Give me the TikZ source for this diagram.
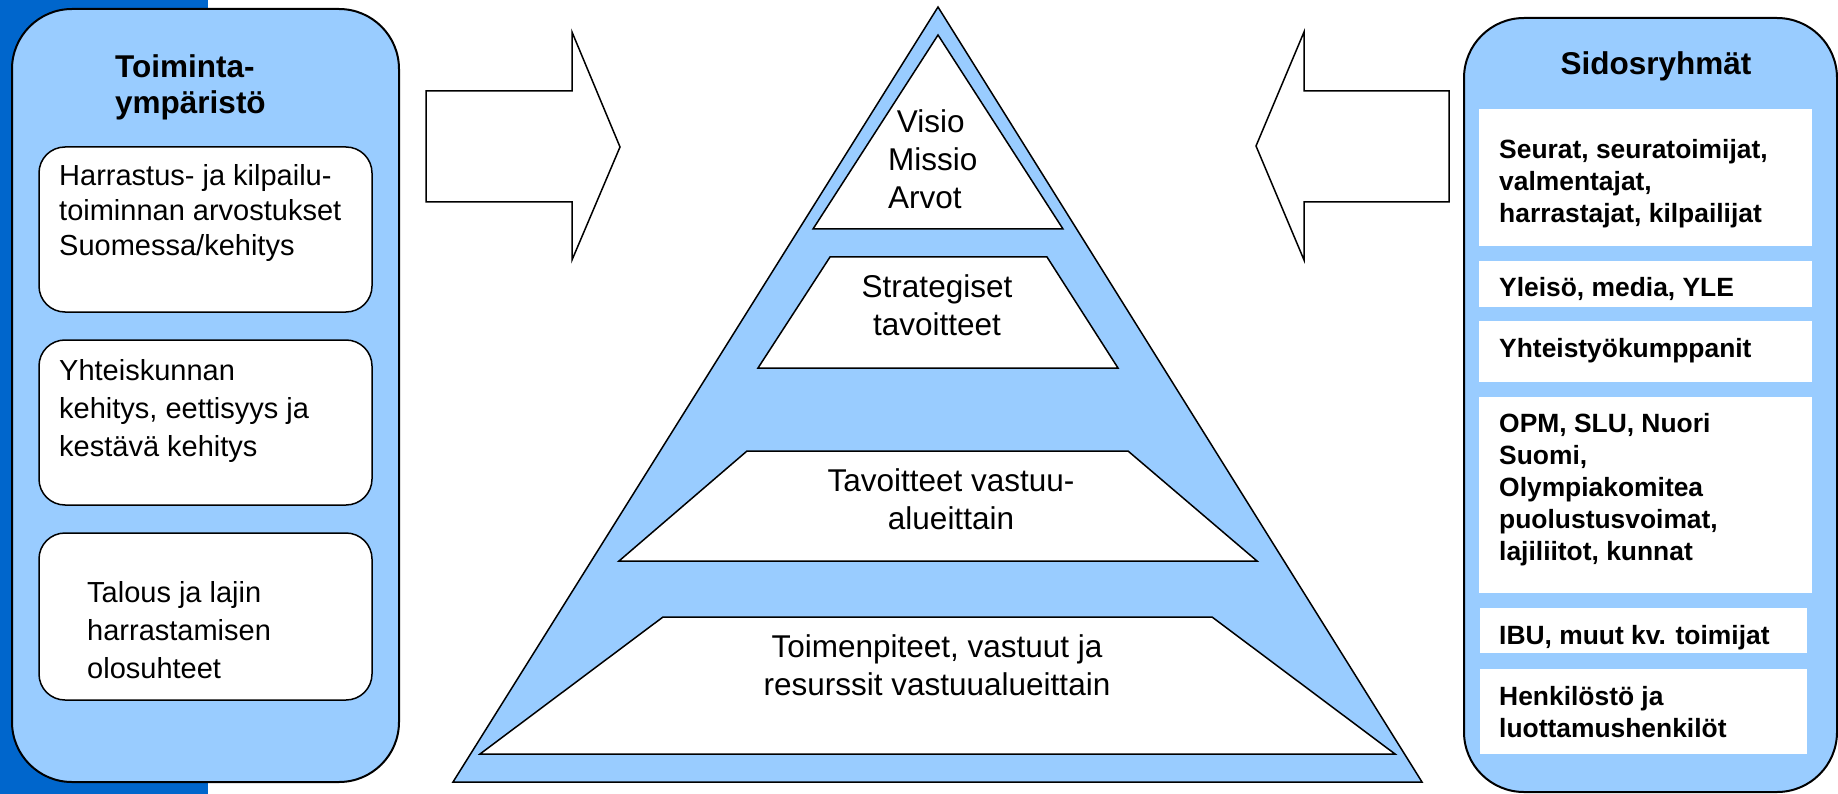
\documentclass[tikz,border=0pt]{standalone}
\usepackage{fontspec}
\setmainfont{Liberation Sans}
\definecolor{paleblue}{HTML}{99CCFF}
\definecolor{stripblue}{HTML}{0066CC}

\begin{document}
\begin{tikzpicture}[x=1pt,y=-1pt,
	panel/.style={fill=paleblue, draw=black, line width=2pt, rounded corners=60pt},
	envbox/.style={fill=white, draw=black, line width=1.5pt, rounded corners=26pt},
	layer/.style={fill=white, draw=black, line width=1.5pt},
	bigarrow/.style={fill=white, draw=black, line width=1.5pt},
	title/.style={font=\fontsize{31.5}{36}\selectfont\bfseries, inner sep=0pt},
	envtext/.style={font=\fontsize{29}{38}\selectfont, align=left, anchor=north west, inner sep=0pt},
	pyrtext/.style={font=\fontsize{31.5}{38}\selectfont, align=center, anchor=north, inner sep=0pt},
	grouptext/.style={font=\fontsize{26.4}{32}\selectfont\bfseries, align=left, anchor=north west, inner sep=0pt}]
	\useasboundingbox (0,0) rectangle (1838,794);
	\fill[stripblue] (0,0) rectangle (208,794);

	\draw[panel] (12,9) rectangle (399,782);
	\node[title, align=left, anchor=north west] (envtitle) at (115,54) {Toiminta-\\ympäristö};
	\draw[envbox] (39,147) rectangle (372,312);
	\draw[envbox] (39,340) rectangle (372,505);
	\draw[envbox] (39,533) rectangle (372,700);
	\node[envtext, font=\fontsize{29}{35}\selectfont] (envA) at (59,164) {Harrastus- ja kilpailu-\\toiminnan arvostukset\\Suomessa/kehitys};
	\node[envtext] (envB) at (59,359) {Yhteiskunnan\\kehitys, eettisyys ja\\kestävä kehitys};
	\node[envtext] (envC) at (87,581) {Talous ja lajin\\harrastamisen\\olosuhteet};

	\draw[bigarrow] (426,91) -- (572,91) -- (572,32) -- (620,147) -- (572,260) -- (572,202) -- (426,202) -- cycle;
	\draw[bigarrow] (1449,91) -- (1304,91) -- (1304,32) -- (1256,146) -- (1304,260) -- (1304,202) -- (1449,202) -- cycle;

	\draw[fill=paleblue, line width=1.5pt] (938,7) -- (1422,782) -- (453,782) -- cycle;
	\draw[layer] (938,35) -- (1063,229) -- (813,229) -- cycle;
	\draw[layer] (830,257) -- (1047,257) -- (1118,368) -- (758,368) -- cycle;
	\draw[layer] (747,451) -- (1128,451) -- (1257,561) -- (619,561) -- cycle;
	\draw[layer] (663,617) -- (1212,617) -- (1395,754) -- (480,754) -- cycle;
	\node[pyrtext, align=left, anchor=north west] (visio) at (888,109) {\ Visio\\Missio\\Arvot};
	\node[pyrtext] (strategy) at (937,274) {Strategiset\\tavoitteet};
	\node[pyrtext] (goals) at (951,468) {Tavoitteet vastuu-\\alueittain};
	\node[pyrtext] (actions) at (937,634) {Toimenpiteet, vastuut ja\\resurssit vastuualueittain};

	\draw[panel] (1464,18) rectangle (1837,792);
	\node[title, anchor=north] (grouptitle) at (1656,51) {Sidosryhmät};
	\fill[white] (1479,109) rectangle (1812,246);
	\fill[white] (1479,261) rectangle (1812,307);
	\fill[white] (1479,321) rectangle (1812,382);
	\fill[white] (1479,397) rectangle (1812,593);
	\fill[white] (1480,608) rectangle (1807,653);
	\fill[white] (1480,669) rectangle (1807,754);
	\node[grouptext] (grpA) at (1499,139) {Seurat, seuratoimijat,\\valmentajat,\\harrastajat, kilpailijat};
	\node[grouptext] (grpB) at (1499,277) {Yleisö, media, YLE};
	\node[grouptext] (grpC) at (1499,338) {Yhteistyökumppanit};
	\node[grouptext] (grpD) at (1499,413) {OPM, SLU, Nuori\\Suomi,\\Olympiakomitea\\puolustusvoimat,\\lajiliitot, kunnat};
	\node[grouptext] (grpE) at (1499,625) {IBU, muut kv. toimijat};
	\node[grouptext] (grpF) at (1499,686) {Henkilöstö ja\\luottamushenkilöt};
\end{tikzpicture}
\end{document}
